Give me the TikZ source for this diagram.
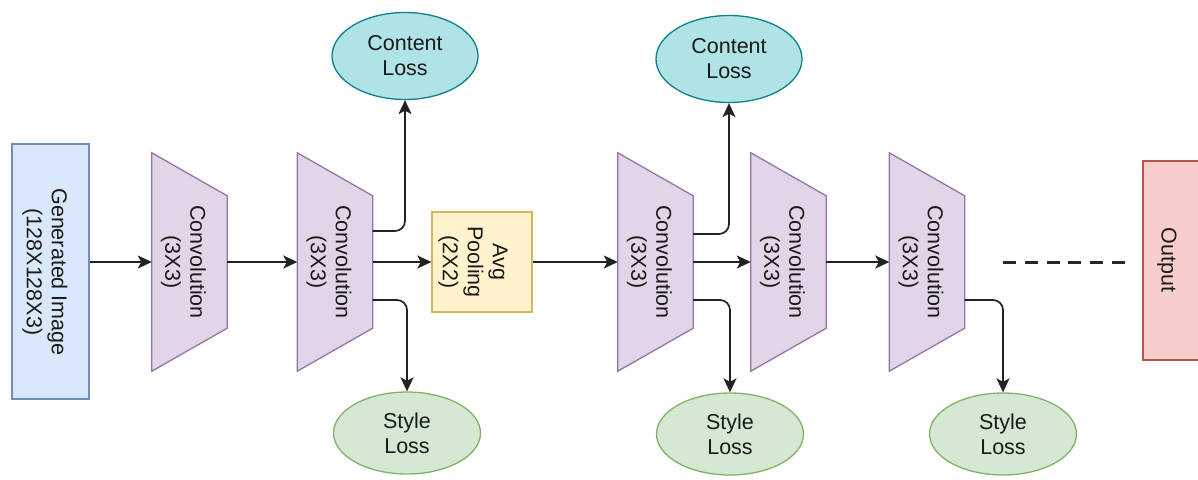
\documentclass[tikz,border=0pt]{standalone}
\usepackage{fontspec}
\setmainfont{Liberation Sans}
\usetikzlibrary{arrows.meta,calc,backgrounds,shapes.geometric}

\definecolor{txt}{HTML}{1A1A1A}
\definecolor{line}{HTML}{222222}
\definecolor{genfill}{HTML}{DAE8FC}
\definecolor{gendraw}{HTML}{6C8EBF}
\definecolor{convfill}{HTML}{E1D5E7}
\definecolor{convdraw}{HTML}{9673A6}
\definecolor{avgfill}{HTML}{FFF2CC}
\definecolor{avgdraw}{HTML}{D6B656}
\definecolor{outfill}{HTML}{F8CECC}
\definecolor{outdraw}{HTML}{B85450}
\definecolor{contfill}{HTML}{B0E3E6}
\definecolor{contdraw}{HTML}{0E8088}
\definecolor{stylefill}{HTML}{D5E8D4}
\definecolor{styledraw}{HTML}{82B366}

\begin{document}
\begin{tikzpicture}[x=1pt,y=-1pt,
  every node/.style={font=\fontsize{21.5}{25}\selectfont, text=txt},
  shapeline/.style={line width=1.3pt},
  genbox/.style={shapeline, rectangle, draw=gendraw, fill=genfill, minimum width=77pt, minimum height=255pt, inner sep=0pt},
  conv/.style={rectangle, draw=none, minimum width=75pt, minimum height=218pt, inner sep=0pt},
  convshape/.style={shapeline, draw=convdraw, fill=convfill, line join=miter},
  avgbox/.style={shapeline, rectangle, draw=avgdraw, fill=avgfill, minimum width=100pt, minimum height=100pt, inner sep=0pt},
  outbox/.style={shapeline, rectangle, draw=outdraw, fill=outfill, minimum width=62pt, minimum height=199pt, inner sep=0pt},
  contentloss/.style={shapeline, ellipse, draw=contdraw, fill=contfill, minimum width=146pt, minimum height=87pt, inner sep=0pt, align=center},
  styleloss/.style={shapeline, ellipse, draw=styledraw, fill=stylefill, minimum width=147pt, minimum height=82pt, inner sep=0pt, align=center},
  vtext/.style={rotate=-90, align=center, inner sep=0pt},
  conn/.style={draw=line, line width=1.7pt, -{Stealth[length=14pt, width=13pt, inset=3.5pt]}},
  branch/.style={conn, rounded corners=10pt},
  dashline/.style={draw=black!85, line width=3pt, dash pattern=on 13pt off 8.8pt}
]
\useasboundingbox (0,0) rectangle (1198,479);
\clip (0,0) rectangle (1198,479);

% input image block
\node[genbox] (gen) at (50.5,271.5) {};
\node[vtext] (gentxt) at (45,272) {Generated Image\\(128X128X3)};

% convolution layers (trapezoids drawn behind the empty frames)
\foreach \n/\x in {c1/189.5, c2/335, c3/655.5, c4/788.5, c5/927}{
  \node[conv] (\n) at (\x,262) {};
  \node[vtext] (\n t) at ($(\n)+(-6,0)$) {Convolution\\(3X3)};
}
\begin{scope}[on background layer]
  \foreach \n in {c1,c2,c3,c4,c5}
    \draw[convshape] (\n.north west) -- ($(\n.north east)+(0,43)$)
      -- ($(\n.south east)+(0,-43)$) -- (\n.south west) -- cycle;
\end{scope}

% pooling and output blocks
\node[avgbox] (avg) at (482,262) {};
\node[vtext] (avgt) at (473,262) {Avg\\Pooling\\(2X2)};
\node[outbox] (out) at (1174,260.5) {};
\node[vtext] (outt) at (1167,260) {Output};

% loss terms
\node[contentloss] (cl1) at (405,56) {Content\\Loss};
\node[contentloss] (cl2) at (729,59) {Content\\Loss};
\node[styleloss] (sl1) at (407,433) {Style\\Loss};
\node[styleloss] (sl2) at (730,434) {Style\\Loss};
\node[styleloss] (sl3) at (1003,434) {Style\\Loss};

% main feed-forward path
\draw[conn] (c1.west -| gen.east) -- (c1.west);
\draw[conn] (c1.east) -- (c2.west);
\draw[conn] (c2.east) -- (avg.west);
\draw[conn] (avg.east) -- (c3.west);
\draw[conn] (c3.east) -- (c4.west);
\draw[conn] (c4.east) -- (c5.west);

% taps to the loss terms
\draw[branch] ($(c2.east)+(0,-31)$) -| (cl1.south);
\draw[branch] ($(c2.east)+(0,38)$) -| (sl1.north);
\draw[branch] ($(c3.east)+(0,-28)$) -| (cl2.south);
\draw[branch] ($(c3.east)+(0,38)$) -| (sl2.north);
\draw[branch] ($(c5.east)+(0,38)$) -| (sl3.north);

% remaining layers elided
\coordinate (d1) at (1003,262);
\coordinate (d2) at (1125,262);
\draw[dashline] (d1) -- (d2);
\end{tikzpicture}
\end{document}
